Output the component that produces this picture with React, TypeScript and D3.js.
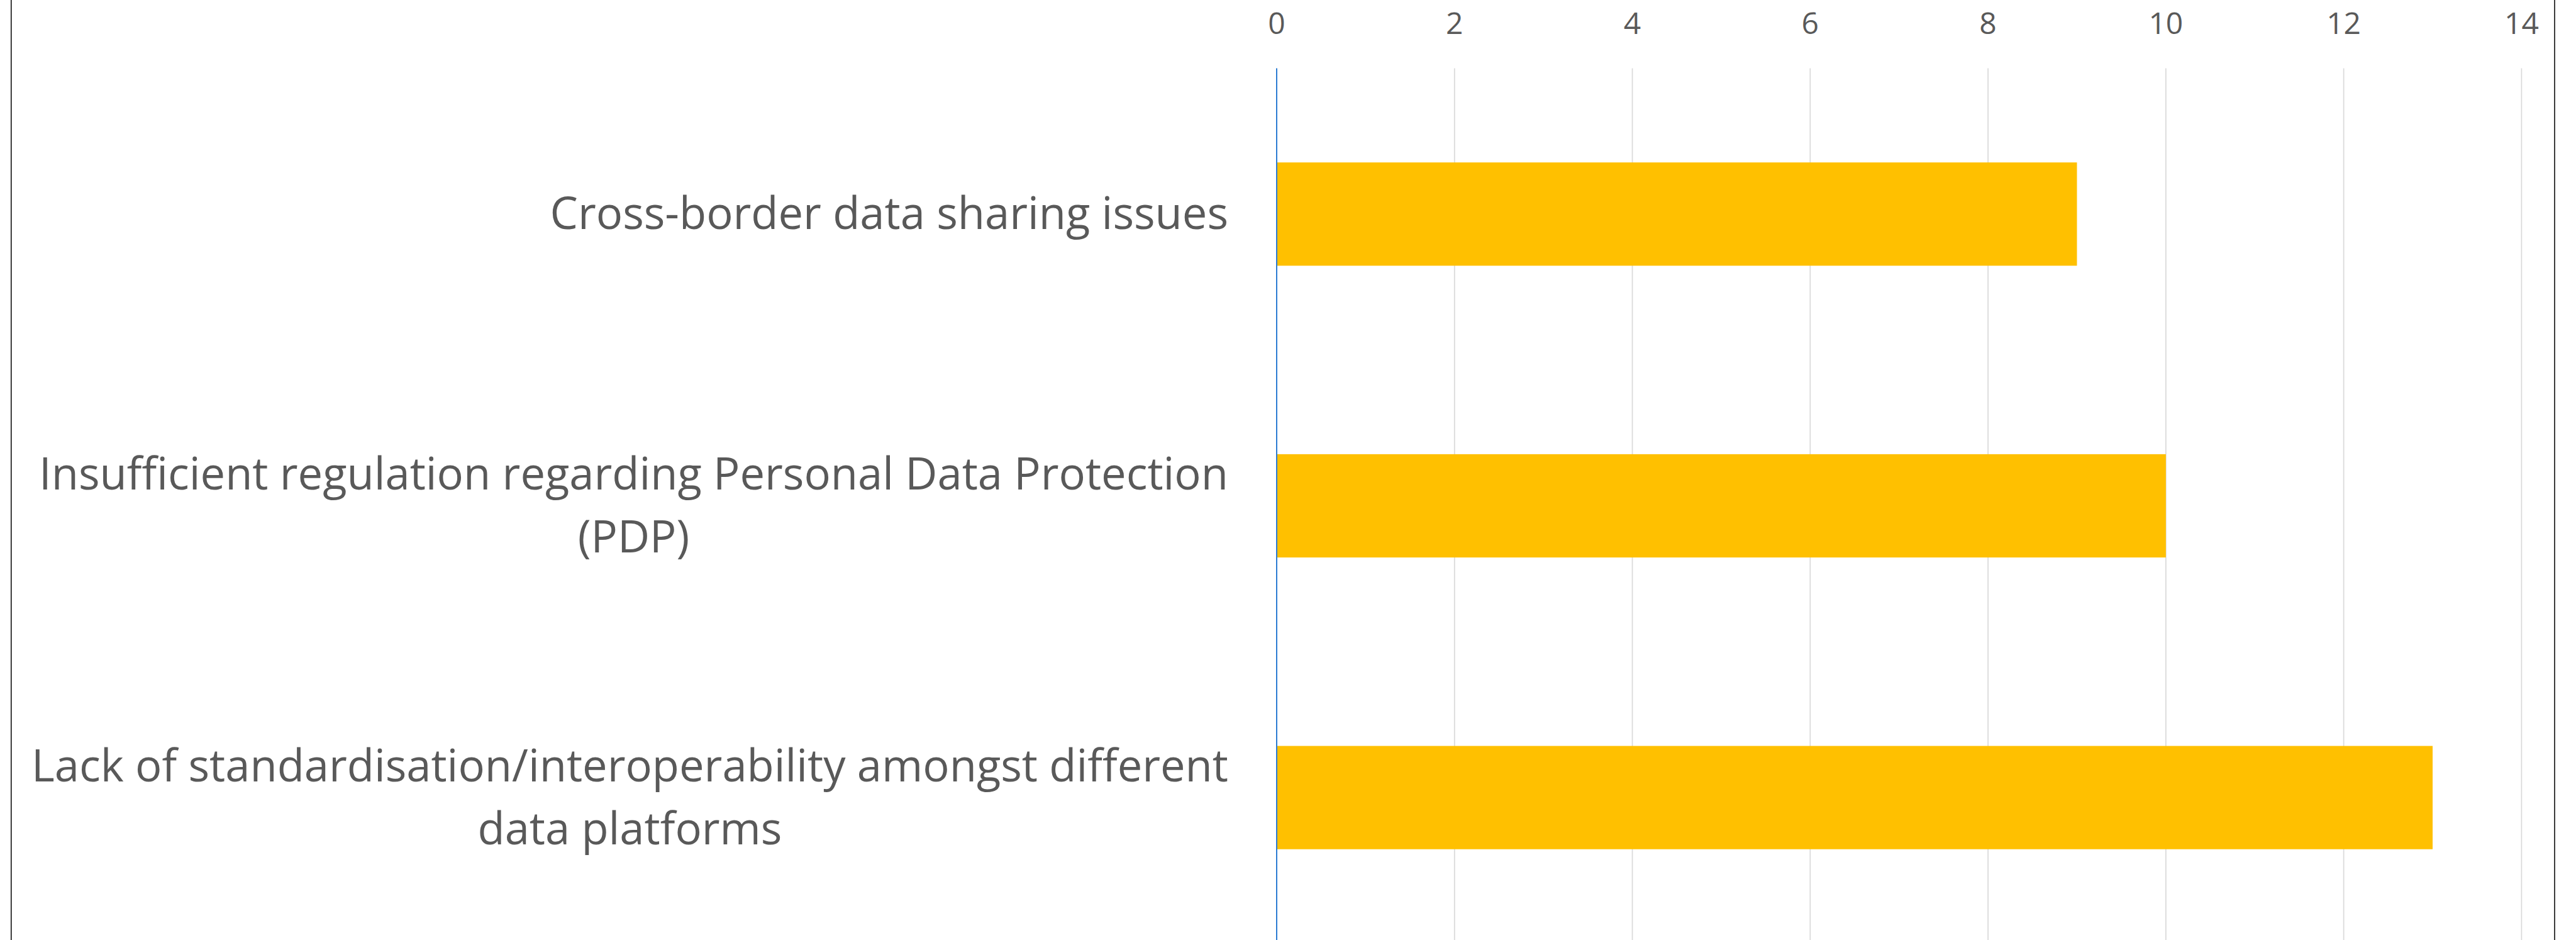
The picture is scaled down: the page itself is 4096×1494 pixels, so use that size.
import React from "react";
import * as d3 from "d3";

const categories: string[][] = [
  ["Cross-border data sharing issues"],
  ["Insufficient regulation regarding Personal Data Protection", "(PDP)"],
  ["Lack of standardisation/interoperability amongst different", "data platforms"],
];
const values: number[] = [9, 10, 13];
const tickValues: number[] = [0, 2, 4, 6, 8, 10, 12, 14];

const W = 4096;
const H = 1494;

function measure(text: string, font: string): number {
  const c = document.createElement("canvas").getContext("2d")!;
  c.font = font;
  return c.measureText(text).width;
}

export default function App() {
  const x = d3.scaleLinear().domain([0, 14]).range([2030, 4009.4]);
  const y = d3
    .scaleBand<number>()
    .domain(d3.range(categories.length))
    .range([108.4, 108.4 + 463.7 * 3])
    .paddingInner(0.646)
    .paddingOuter(0.323);

  const labelFontSize = 70.5;
  const labelFamily = "'Open Sans', sans-serif";
  const labelFont = `${labelFontSize}px ${labelFamily}`;
  const lineH = 100;
  const labelRight = 1953;
  const textColor = "#595959";

  return (
    <svg
      width={W}
      height={H}
      style={{ position: "absolute", left: 0, top: 0, display: "block", background: "#fff" }}
    >
      {tickValues.map((t) => (
        <line
          key={"g" + t}
          x1={x(t)}
          x2={x(t)}
          y1={108.4}
          y2={H}
          stroke={t === 0 ? "#2B7BD2" : "#D9D9D9"}
          strokeWidth={t === 0 ? 2 : 1.7}
        />
      ))}
      {tickValues.map((t) => (
        <text
          key={"t" + t}
          x={x(t)}
          y={54}
          textAnchor="middle"
          fontFamily={labelFamily}
          fontSize={48}
          fill={textColor}
        >
          {t}
        </text>
      ))}
      {values.map((v, i) => (
        <rect
          key={"b" + i}
          x={x(0) + 1}
          y={y(i)!}
          width={x(v) - x(0) - 1}
          height={y.bandwidth()}
          fill="#FFC000"
        />
      ))}
      {categories.map((lines, i) => {
        const cy = y(i)! + y.bandwidth() / 2;
        const widths = lines.map((l) => measure(l, labelFont));
        const blockW = Math.max(...widths);
        const centerX = labelRight - blockW / 2;
        const n = lines.length;
        return (
          <g key={"c" + i}>
            {lines.map((l, j) => {
              const lineCenter = cy + (j - (n - 1) / 2) * lineH;
              return (
                <text
                  key={j}
                  x={n === 1 ? labelRight : centerX}
                  y={lineCenter + 24}
                  textAnchor={n === 1 ? "end" : "middle"}
                  fontFamily={labelFamily}
                  fontSize={labelFontSize}
                  fill={textColor}
                >
                  {l}
                </text>
              );
            })}
          </g>
        );
      })}
      <line x1={17.8} x2={17.8} y1={0} y2={H} stroke="#1a1a1a" strokeWidth={1.7} />
      <line x1={4062} x2={4062} y1={0} y2={H} stroke="#1a1a1a" strokeWidth={1.7} />
    </svg>
  );
}
